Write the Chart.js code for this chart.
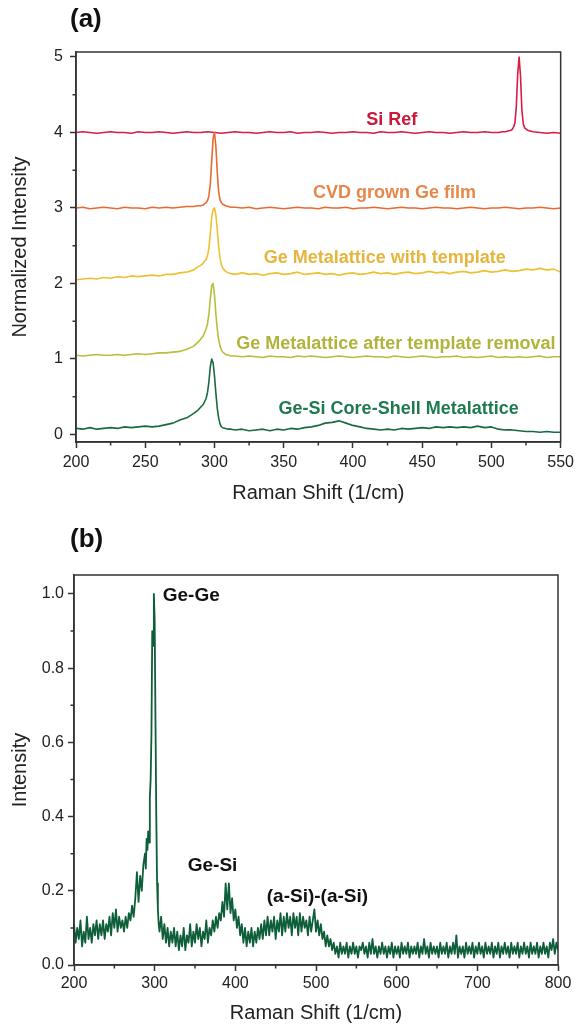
<!DOCTYPE html>
<html>
<head>
<meta charset="utf-8">
<script src="https://cdn.jsdelivr.net/npm/chart.js@4.4.0/dist/chart.umd.min.js"></script>
<style>
  html, body { margin: 0; padding: 0; background: #fff; }
  #wrap { position: relative; width: 579px; height: 1025px; overflow: hidden; }
  canvas { position: absolute; left: 0; }
  .panel { position: absolute; font: bold 26px "Liberation Sans", Arial, sans-serif; color: #111; line-height: 30px; }
</style>
</head>
<body>
<div id="wrap">
  <canvas id="chartA" width="579" height="520" style="top:0"></canvas>
  <canvas id="chartB" width="579" height="505" style="top:520px"></canvas>
  <div class="panel" style="left:70px;top:3px">(a)</div>
  <div class="panel" style="left:70px;top:523px">(b)</div>
</div>
<script>
// ---------- Panel (a): stacked, normalized Raman spectra ----------
const shiftA = [
  200,205,210,215,220,225,230,235,240,245,250,255,260,265,270,275,280,285,
  288,290,292,294,295,296,297,298,299,300,301,302,303,304,305,306,308,310,312,
  315,320,325,330,335,340,345,350,355,360,
  365,370,375,380,385,390,395,400,405,410,
  415,420,425,430,435,440,445,450,455,460,
  465,470,475,480,485,490,495,500,505,510,
  515,520,525,530,535,540,545,550
];
const cvdGe = [
  3.00,3.01,2.99,3.00,3.01,3.00,2.99,3.01,3.00,3.00,2.99,3.01,3.00,3.01,3.00,3.01,3.02,3.02,
  3.03,3.03,3.04,3.07,3.10,3.16,3.32,3.62,3.92,4.00,3.82,3.48,3.22,3.11,3.07,3.05,3.03,3.02,3.01,
  3.01,3.00,3.01,2.99,3.00,3.01,3.00,2.99,3.00,3.01,
  3.00,3.00,2.99,3.01,3.00,3.00,3.01,2.99,3.00,3.00,
  3.01,3.00,2.99,3.00,3.01,3.00,3.00,2.99,3.00,3.01,
  3.00,3.00,2.99,3.00,3.01,3.00,2.99,3.00,3.00,3.01,
  3.00,2.99,3.00,3.00,3.01,3.00,2.99,3.00
];
const geTemplate = [
  2.05,2.06,2.07,2.06,2.08,2.07,2.09,2.08,2.10,2.09,2.10,2.11,2.10,2.12,2.12,2.14,2.15,2.18,
  2.22,2.24,2.27,2.32,2.37,2.47,2.66,2.88,2.98,3.00,2.91,2.72,2.50,2.34,2.25,2.20,2.16,2.14,2.13,
  2.12,2.14,2.12,2.13,2.11,2.13,2.14,2.12,2.13,2.15,
  2.12,2.13,2.14,2.12,2.13,2.11,2.13,2.14,2.12,2.13,
  2.15,2.13,2.14,2.12,2.14,2.15,2.13,2.14,2.16,2.14,
  2.15,2.13,2.15,2.16,2.14,2.15,2.17,2.15,2.16,2.18,
  2.16,2.17,2.19,2.18,2.20,2.18,2.19,2.15
];
const geRemoved = [
  1.05,1.04,1.05,1.06,1.05,1.05,1.06,1.05,1.06,1.07,1.06,1.07,1.08,1.08,1.09,1.10,1.13,1.17,
  1.22,1.26,1.31,1.40,1.47,1.60,1.80,1.97,2.00,1.85,1.60,1.40,1.26,1.17,1.12,1.09,1.06,1.05,1.04,
  1.04,1.03,1.04,1.03,1.02,1.04,1.03,1.03,1.02,1.04,
  1.03,1.04,1.03,1.02,1.03,1.04,1.03,1.02,1.03,1.04,
  1.03,1.03,1.02,1.04,1.03,1.02,1.03,1.04,1.03,1.02,
  1.03,1.03,1.04,1.02,1.03,1.02,1.03,1.04,1.02,1.03,
  1.02,1.03,1.02,1.03,1.04,1.02,1.03,1.03
];
const geSiCoreShell = [
  0.08,0.07,0.09,0.07,0.08,0.09,0.08,0.10,0.09,0.10,0.11,0.10,0.11,0.13,0.15,0.19,0.22,0.28,
  0.32,0.36,0.40,0.48,0.56,0.70,0.90,1.00,0.95,0.78,0.55,0.35,0.22,0.14,0.10,0.09,0.08,0.07,0.07,
  0.06,0.07,0.05,0.06,0.07,0.05,0.07,0.06,0.08,0.07,
  0.09,0.10,0.12,0.15,0.16,0.18,0.15,0.12,0.10,0.08,
  0.07,0.06,0.07,0.06,0.08,0.07,0.08,0.09,0.08,0.10,
  0.09,0.10,0.09,0.10,0.09,0.11,0.09,0.10,0.07,0.06,
  0.06,0.05,0.04,0.04,0.03,0.04,0.03,0.03
];
const siShift = [
  200,205,210,215,220,225,230,235,240,245,
  250,255,260,265,270,275,280,285,290,295,
  300,305,310,315,320,325,330,335,340,345,
  350,355,360,365,370,375,380,385,390,395,
  400,405,410,415,420,425,430,435,440,445,
  450,455,460,465,470,475,480,485,490,495,
  500,505,
  508,510,512,514,515,516,517,518,519,520,521,522,523,524,526,528,530,
  535,540,545,550
];
const siRef = [
  4.00,4.01,4.00,3.99,4.00,4.01,4.00,4.00,3.99,4.01,
  4.00,4.00,4.01,4.00,3.99,4.00,4.01,4.00,4.00,4.01,
  4.00,3.99,4.00,4.01,4.00,4.00,3.99,4.00,4.01,4.00,
  4.00,4.01,3.99,4.00,4.00,4.01,4.00,3.99,4.00,4.00,
  4.01,4.00,4.00,3.99,4.01,4.00,4.00,4.01,4.00,3.99,
  4.00,4.01,4.00,4.00,3.99,4.00,4.01,4.00,4.00,4.01,
  4.00,4.00,
  4.01,4.01,4.02,4.03,4.04,4.07,4.13,4.35,4.78,5.00,4.75,4.30,4.12,4.06,4.03,4.02,4.01,
  4.00,3.99,4.00,3.99
];
const xTicksA = [200,250,300,350,400,450,500,550];
const xMinorA = [225,275,325,375,425,475,525];
const yTicksA = [0,1,2,3,4,5];
const yMinorA = [0.5,1.5,2.5,3.5,4.5];

// ---------- Panel (b): Ge-Si core-shell metalattice spectrum ----------
const shiftB = [
  200,202,204,206,208,210,212,214,216,218,
  220,222,224,226,228,230,232,234,236,238,
  240,242,244,246,248,250,252,254,256,258,
  260,262,264,266,268,270,272,274,276,278,
  280,282,284,286,
  288,289,290,291,292,293,294,295,296,297,298,299,300,301,302,303,304,305,306,
  308,310,312,314,316,318,320,322,324,326,
  328,330,332,334,336,338,340,342,344,346,
  348,350,352,354,356,358,360,362,364,366,
  368,370,372,374,376,378,380,382,384,386,
  388,390,392,394,396,398,400,402,404,406,
  408,410,412,414,416,418,420,422,424,426,
  428,430,432,434,436,438,440,442,444,446,
  448,450,452,454,456,458,460,462,464,466,
  468,470,472,474,476,478,480,482,484,486,
  488,490,492,494,496,498,500,502,504,506,
  508,510,512,514,516,518,520,
  522,524,526,528,530,532,534,536,538,540,
  542,544,546,548,550,552,554,556,558,560,
  562,564,566,568,570,572,574,576,578,580,
  582,584,586,588,590,592,594,596,598,600,
  602,604,606,608,610,612,614,616,618,620,
  622,624,626,628,630,632,634,636,638,640,
  642,644,646,648,650,652,654,656,658,660,
  662,664,666,668,670,672,674,676,678,680,
  682,684,686,688,690,692,694,696,698,700,
  702,704,706,708,710,712,714,716,718,720,
  722,724,726,728,730,732,734,736,738,740,
  742,744,746,748,750,752,754,756,758,760,
  762,764,766,768,770,772,774,776,778,780,
  782,784,786,788,790,792,794,796,798,800
];
const intensityB = [
  0.11,0.06,0.10,0.07,0.12,0.05,0.09,0.06,0.13,0.07,
  0.10,0.06,0.11,0.08,0.12,0.07,0.11,0.08,0.12,0.07,
  0.11,0.09,0.13,0.08,0.14,0.10,0.15,0.09,0.13,0.10,
  0.12,0.09,0.13,0.10,0.14,0.12,0.16,0.13,0.18,0.25,
  0.17,0.24,0.20,0.27,
  0.30,0.26,0.34,0.31,0.36,0.33,0.45,0.50,0.62,0.90,0.86,1.00,0.93,0.66,0.40,0.22,0.15,0.11,0.09,
  0.13,0.07,0.11,0.06,0.10,0.05,0.09,0.06,0.10,0.05,
  0.09,0.04,0.08,0.05,0.10,0.04,0.08,0.06,0.11,0.05,
  0.09,0.06,0.11,0.07,0.10,0.05,0.09,0.07,0.12,0.06,
  0.10,0.08,0.12,0.09,0.13,0.10,0.14,0.12,0.17,0.13,
  0.22,0.15,0.22,0.14,0.18,0.12,0.15,0.10,0.13,0.08,
  0.11,0.06,0.10,0.05,0.09,0.06,0.10,0.05,0.09,0.06,
  0.10,0.07,0.11,0.07,0.12,0.08,0.13,0.08,0.12,0.09,
  0.13,0.07,0.12,0.09,0.14,0.08,0.13,0.09,0.14,0.10,
  0.13,0.08,0.14,0.10,0.13,0.08,0.14,0.09,0.13,0.10,
  0.12,0.08,0.13,0.09,0.12,0.15,0.09,0.12,0.08,0.11,
  0.07,0.09,0.05,0.08,0.05,0.07,0.04,
  0.06,0.03,0.05,0.02,0.06,0.03,0.05,0.03,0.06,0.02,
  0.05,0.03,0.06,0.03,0.05,0.02,0.05,0.04,0.06,0.03,
  0.05,0.02,0.06,0.03,0.07,0.03,0.05,0.02,0.05,0.03,
  0.06,0.03,0.05,0.02,0.05,0.03,0.06,0.02,0.05,0.03,
  0.05,0.02,0.06,0.03,0.05,0.03,0.06,0.02,0.05,0.03,
  0.05,0.03,0.06,0.02,0.05,0.03,0.07,0.03,0.05,0.02,
  0.06,0.03,0.05,0.03,0.05,0.02,0.06,0.03,0.05,0.03,
  0.06,0.02,0.05,0.03,0.06,0.03,0.08,0.02,0.05,0.03,
  0.05,0.02,0.06,0.03,0.05,0.03,0.06,0.02,0.05,0.03,
  0.06,0.03,0.05,0.02,0.06,0.03,0.05,0.03,0.06,0.02,
  0.05,0.03,0.06,0.02,0.05,0.03,0.06,0.03,0.05,0.02,
  0.06,0.03,0.05,0.03,0.06,0.02,0.05,0.03,0.06,0.03,
  0.05,0.02,0.06,0.03,0.05,0.03,0.06,0.02,0.05,0.03,
  0.06,0.03,0.05,0.02,0.06,0.04,0.07,0.03,0.06,0.04
];
const xTicksB = [200,300,400,500,600,700,800];
const xMinorB = [250,350,450,550,650,750];
const yTicksB = [0,0.2,0.4,0.6,0.8,1.0];
const yMinorB = [0.1,0.3,0.5,0.7,0.9];

// ---------- shared styling ----------
const FONT = '"Liberation Sans", Arial, Helvetica, sans-serif';
const AXIS = '#333333';
const TEXT = '#222222';

const toPoints = (xs, ys) => xs.map((x, i) => ({ x: x, y: ys[i] }));

function line(label, xs, ys, color, width) {
  return {
    label: label, data: toPoints(xs, ys), borderColor: color, backgroundColor: color,
    borderWidth: width, pointRadius: 0, showLine: true, tension: 0,
    borderJoinStyle: 'round', fill: false
  };
}

// Box frame, minor ticks and in-plot annotations
function framePlugin(xMinor, yMinor, notes, noteFont) {
  return {
    id: 'frame',
    afterDraw(chart) {
      const { ctx, chartArea: a, scales } = chart;
      const sx = scales.x, sy = scales.y;
      ctx.save();
      ctx.strokeStyle = AXIS;
      ctx.lineWidth = 1.5;
      ctx.strokeRect(a.left, a.top, a.right - a.left, a.bottom - a.top);
      ctx.beginPath();
      xMinor.forEach(v => { const p = sx.getPixelForValue(v); ctx.moveTo(p, a.bottom); ctx.lineTo(p, a.bottom + 3.5); });
      yMinor.forEach(v => { const p = sy.getPixelForValue(v); ctx.moveTo(a.left, p); ctx.lineTo(a.left - 3.5, p); });
      ctx.stroke();
      ctx.font = noteFont;
      ctx.textBaseline = 'middle';
      notes.forEach(n => {
        ctx.fillStyle = n.color;
        ctx.textAlign = n.align;
        ctx.fillText(n.text, sx.getPixelForValue(n.x), sy.getPixelForValue(n.y));
      });
      ctx.restore();
    }
  };
}

function axes(o) {
  const common = (ticks) => ({
    afterBuildTicks: s => { s.ticks = ticks.map(v => ({ value: v })); },
    grid: { drawOnChartArea: false, drawTicks: true, tickLength: 6, tickColor: AXIS, tickWidth: 1.5 },
    border: { display: true, color: AXIS, width: 1.5 }
  });
  return {
    x: Object.assign(common(o.xTicks), {
      type: 'linear', position: 'bottom', min: o.xMin, max: o.xMax,
      afterFit: s => { s.height = o.xHeight; },
      ticks: { color: TEXT, font: { family: FONT, size: 16 }, padding: o.xPad, maxRotation: 0, autoSkip: false,
               callback: v => String(v) },
      title: { display: true, text: 'Raman Shift (1/cm)', color: TEXT, font: { family: FONT, size: 20 },
               padding: { top: 0, bottom: 0 } }
    }),
    y: Object.assign(common(o.yTicks), {
      type: 'linear', position: 'left', min: o.yMin, max: o.yMax,
      afterFit: s => { s.width = o.yWidth; },
      ticks: { color: TEXT, font: { family: FONT, size: 16 }, padding: o.yPad, autoSkip: false,
               callback: o.yFormat },
      title: { display: true, text: o.yTitle, color: TEXT, font: { family: FONT, size: 20 },
               padding: { top: 8, bottom: 0 } }
    })
  };
}

// ---------- chart (a) ----------
new Chart(document.getElementById('chartA'), {
  type: 'scatter',
  data: {
    datasets: [
      line('Ge-Si Core-Shell Metalattice', shiftA, geSiCoreShell, '#1B6A3F', 1.6),
      line('Ge Metalattice after template removal', shiftA, geRemoved, '#B8BE3C', 1.6),
      line('Ge Metalattice with template', shiftA, geTemplate, '#EBC233', 1.6),
      line('CVD grown Ge film', shiftA, cvdGe, '#E96A30', 1.6),
      line('Si Ref', siShift, siRef, '#DA1B45', 1.6)
    ]
  },
  options: {
    responsive: false, animation: false,
    layout: { padding: { left: 0, right: 17, top: 52, bottom: 15 } },
    plugins: { legend: { display: false }, tooltip: { enabled: false } },
    scales: axes({
      xMin: 200, xMax: 550, xTicks: xTicksA, xHeight: 63, xPad: 5,
      yMin: -0.1, yMax: 5.066, yTicks: yTicksA, yWidth: 76, yPad: 7,
      yTitle: 'Normalized Intensity', yFormat: v => String(v)
    })
  },
  plugins: [framePlugin(xMinorA, yMinorA, [
    { text: 'Si Ref', x: 428, y: 4.17, color: '#C8183C', align: 'center' },
    { text: 'CVD grown Ge film', x: 430, y: 3.20, color: '#E8874A', align: 'center' },
    { text: 'Ge Metalattice with template', x: 423, y: 2.34, color: '#E5B53C', align: 'center' },
    { text: 'Ge Metalattice after template removal', x: 431, y: 1.20, color: '#B1B43A', align: 'center' },
    { text: 'Ge-Si Core-Shell Metalattice', x: 433, y: 0.34, color: '#1F7A50', align: 'center' }
  ], 'bold 18px ' + FONT)]
});

// ---------- chart (b) ----------
new Chart(document.getElementById('chartB'), {
  type: 'scatter',
  data: {
    datasets: [ line('Ge-Si Core-Shell Metalattice', shiftB, intensityB, '#0E5E3A', 1.8) ]
  },
  options: {
    responsive: false, animation: false,
    layout: { padding: { left: 0, right: 21, top: 55, bottom: 0 } },
    plugins: { legend: { display: false }, tooltip: { enabled: false } },
    scales: axes({
      xMin: 200, xMax: 800, xTicks: xTicksB, xHeight: 60, xPad: 3,
      yMin: 0, yMax: 1.051, yTicks: yTicksB, yWidth: 74, yPad: 4,
      yTitle: 'Intensity', yFormat: v => v.toFixed(1)
    })
  },
  plugins: [framePlugin(xMinorB, yMinorB, [
    { text: 'Ge-Ge', x: 310, y: 0.995, color: '#111111', align: 'left' },
    { text: 'Ge-Si', x: 341, y: 0.267, color: '#111111', align: 'left' },
    { text: '(a-Si)-(a-Si)', x: 439, y: 0.183, color: '#111111', align: 'left' }
  ], 'bold 19px ' + FONT)]
});
</script>
</body>
</html>
